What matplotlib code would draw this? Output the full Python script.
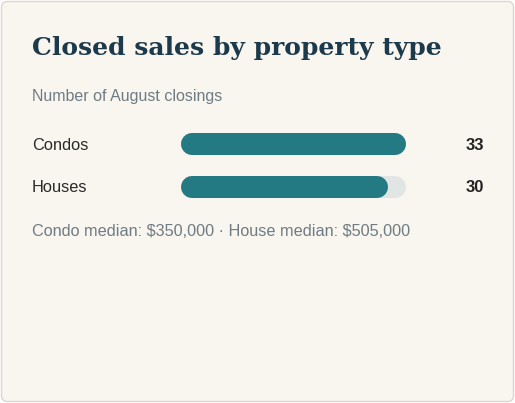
import matplotlib.pyplot as plt
from matplotlib.patches import FancyBboxPatch

# data
categories = ['Condos', 'Houses']
closings = [33, 30]
max_value = 33
title = 'Closed sales by property type'
subtitle = 'Number of August closings'
footnote = 'Condo median: $350,000 \u00b7 House median: $505,000'

W, H = 515, 403
fig = plt.figure(figsize=(W / 100, H / 100), dpi=100)
fig.patch.set_facecolor('white')

# background axes in pixel coordinates
bg = fig.add_axes([0, 0, 1, 1])
bg.set_xlim(0, W)
bg.set_ylim(H, 0)
bg.axis('off')

card = FancyBboxPatch((1.5, 1.5), W - 3, H - 3, boxstyle='round,pad=0,rounding_size=6',
                      facecolor='#f9f5ef', edgecolor='#dcd8d0', linewidth=1.0)
bg.add_patch(card)

bg.text(32, 48.5, title, fontsize=18, fontweight='bold', family='DejaVu Serif',
        color='#1b3a4b', va='center', ha='left')
bg.text(32, 96, subtitle, fontsize=11.5, family='Liberation Sans', color='#6e7c84',
        va='center', ha='left')
bg.text(32, 232, footnote, fontsize=11.7, family='Liberation Sans', color='#6e7c84',
        va='center', ha='left', parse_math=False)

bar_y = [144, 186.5]
for cat, val, y in zip(categories, closings, bar_y):
    bg.text(32, y + 1, cat, fontsize=11.8, family='Liberation Sans', color='#2a2a2a',
            va='center', ha='left')
    bg.text(484, y + 1, str(val), fontsize=12, fontweight='bold', family='Liberation Sans',
            color='#222222', va='center', ha='right')

# bar axes: rounded bars drawn as thick lines with round caps
bar_h = 22
cap = bar_h / 2
x0, x1 = 181 + cap, 406 - cap
bax = fig.add_axes([x0 / W, 0, (x1 - x0) / W, 1])
bax.set_xlim(0, max_value)
bax.set_ylim(H, 0)
bax.axis('off')
lw = bar_h * 72 / 100
for val, y in zip(closings, bar_y):
    bax.plot([0, max_value], [y, y], color='#e1e6e4', linewidth=lw,
             solid_capstyle='round', clip_on=False)
    bax.plot([0, val], [y, y], color='#237a82', linewidth=lw,
             solid_capstyle='round', clip_on=False)

fig.savefig('out.png', dpi=100, facecolor=fig.get_facecolor())
